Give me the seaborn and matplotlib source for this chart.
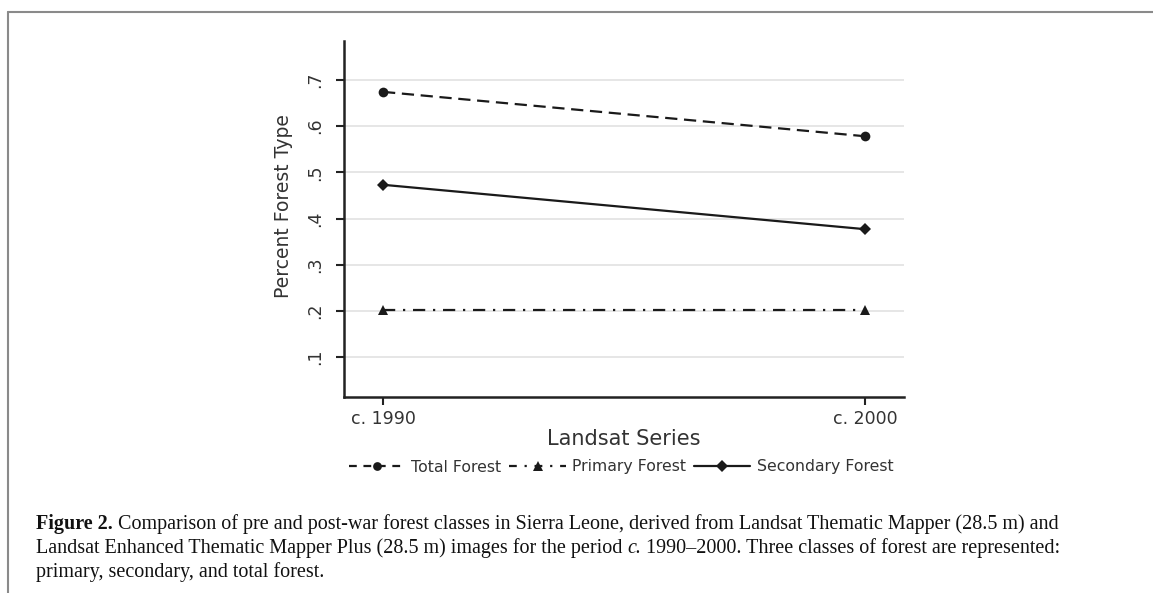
import matplotlib
matplotlib.use("Agg")
import matplotlib.pyplot as plt
import matplotlib.lines as mlines
import pandas as pd
import seaborn as sns

# data
periods = ["c. 1990", "c. 2000"]
total_forest = [0.674, 0.578]
primary_forest = [0.203, 0.203]
secondary_forest = [0.473, 0.377]
y_ticks = [0.1, 0.2, 0.3, 0.4, 0.5, 0.6, 0.7]
y_tick_labels = [".1", ".2", ".3", ".4", ".5", ".6", ".7"]

df = pd.DataFrame({
    "period": periods * 3,
    "value": total_forest + primary_forest + secondary_forest,
    "series": ["Total Forest"] * 2 + ["Primary Forest"] * 2 + ["Secondary Forest"] * 2,
})

sns.set_style("white")
plt.rcParams["font.family"] = ["DejaVu Sans"]

W, H = 1153, 593
fig = plt.figure(figsize=(W / 100, H / 100), dpi=100)
ax = fig.add_axes([344 / W, 1 - 397 / H, 560 / W, 356 / H])

styles = {
    "Total Forest": dict(marker="o", ms=7, dashes=(5.5, 3)),
    "Primary Forest": dict(marker="^", ms=7.5, dashes=(5.5, 3.5, 1, 3.5)),
    "Secondary Forest": dict(marker="D", ms=6.5, dashes=()),
}

for name, st in styles.items():
    sub = df[df["series"] == name]
    sns.lineplot(data=sub, x="period", y="value", ax=ax, color="#1a1a1a",
                 marker=st["marker"], markersize=st["ms"], markeredgewidth=0,
                 linewidth=1.6, sort=False, legend=False)
    if st["dashes"]:
        ax.lines[-1].set_dashes(st["dashes"])

ax.set_xlim(-0.081, 1.081)
ax.set_ylim(0.014, 0.784)
ax.set_yticks(y_ticks)
ax.set_yticklabels(y_tick_labels, rotation=90, va="center", fontsize=12.5)
ax.tick_params(axis="x", labelsize=12.5)
ax.grid(axis="y", color="#e6e6e6", linewidth=1.4)
ax.grid(axis="x", visible=False)
ax.set_axisbelow(True)
ax.tick_params(axis="both", which="major", direction="out", length=6, width=1.5,
               color="#222222", bottom=True, left=True, labelcolor="#333333")
ax.tick_params(axis="y", pad=8)
ax.tick_params(axis="x", pad=3)
for s in ["top", "right"]:
    ax.spines[s].set_visible(False)
for s in ["left", "bottom"]:
    ax.spines[s].set_color("#222222")
    ax.spines[s].set_linewidth(1.8)

ax.set_xlabel("Landsat Series", fontsize=15, color="#333333", labelpad=0)
ax.set_ylabel("Percent Forest Type", fontsize=13.5, color="#333333")
ax.yaxis.set_label_coords((293 - 344) / 560, (397 - 206) / 356)
ax.xaxis.set_label_coords(0.5, -(439 - 397) / 356)
ax.xaxis.label.set_va("center")

handles = []
for name, st in styles.items():
    h = mlines.Line2D([], [], color="#1a1a1a", marker=st["marker"], markersize=st["ms"] * 0.9,
                      markeredgewidth=0, linewidth=1.6, label=name)
    if st["dashes"]:
        h.set_dashes((3.5,) + tuple(st["dashes"][1:]))
    handles.append(h)
fig.legend(handles=handles, loc="center", bbox_to_anchor=(621 / W, 1 - 467 / H), ncol=3,
           frameon=False, fontsize=11.3, handlelength=3.6, handletextpad=0.4,
           columnspacing=0.5, labelcolor="#333333", borderpad=0, borderaxespad=0)

# figure frame (top and left border)
fig.add_artist(mlines.Line2D([8 / W, 1], [1 - 12 / H, 1 - 12 / H], color="#8a8a8a",
                             linewidth=1.5, transform=fig.transFigure))
fig.add_artist(mlines.Line2D([8 / W, 8 / W], [0, 1 - 12 / H], color="#8a8a8a",
                             linewidth=1.5, transform=fig.transFigure))

# caption, built piecewise for bold / italic parts
caption = [
    [("Figure 2.", "bold", "normal"),
     (" Comparison of pre and post-war forest classes in Sierra Leone, derived from Landsat Thematic Mapper (28.5 m) and",
      "normal", "normal")],
    [("Landsat Enhanced Thematic Mapper Plus (28.5 m) images for the period ", "normal", "normal"),
     ("c.", "normal", "italic"),
     (" 1990\u20132000. Three classes of forest are represented:", "normal", "normal")],
    [("primary, secondary, and total forest.", "normal", "normal")],
]
fig.canvas.draw()
renderer = fig.canvas.get_renderer()
y0 = 529
for line in caption:
    x = 36
    for txt, weight, style in line:
        t = fig.text(x / W, 1 - y0 / H, txt, fontsize=14.5, family="Liberation Serif",
                     weight=weight, style=style, va="baseline", ha="left", color="#111111")
        bb = t.get_window_extent(renderer)
        x += bb.width
    y0 += 24

fig.savefig("out.png", dpi=100)
